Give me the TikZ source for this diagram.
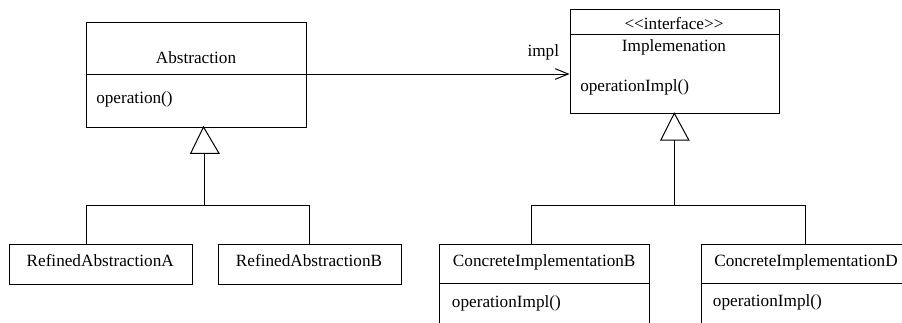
\documentclass[tikz,border=0pt]{standalone}
\usepackage{fontspec}
\setmainfont{Liberation Serif}
\usetikzlibrary{arrows.meta}
\tikzset{
  umlbox/.style={draw, rectangle, inner sep=0pt, anchor=north west, line width=0.75pt},
  lbl/.style={inner sep=0pt, font=\fontsize{12.9pt}{15pt}\selectfont},
  conn/.style={line width=0.75pt},
  gen/.style={line width=0.75pt, fill=white, line join=miter},
  assoc/.style={line width=0.75pt, -{Straight Barb[length=9.75pt,width=8pt,line width=0.75pt]}}
}
\begin{document}
\begin{tikzpicture}[x=0.75pt,y=-0.75pt]
\useasboundingbox (0,0) rectangle (902,322);
\clip (0,0) rectangle (902,322);

% Abstraction
\node[umlbox, minimum width=165pt, minimum height=78.75pt] (abs) at (86,22) {};
\coordinate (absdl) at (86,74);
\coordinate (absdr) at (306,74);
\draw[conn] (absdl) -- (absdr);
\node[lbl, anchor=base] (absname) at (196,63) {Abstraction};
\node[lbl, anchor=base west] (absop) at (96,103.5) {operation()};

% Implemenation
\node[umlbox, minimum width=156.9pt, minimum height=78pt] (imp) at (569.5,9.3) {};
\coordinate (impdl) at (569.5,34.7);
\coordinate (impdr) at (778.7,34.7);
\draw[conn] (impdl) -- (impdr);
\node[lbl, anchor=base] (impster) at (674,29.5) {<{}<interface>{}>};
\node[lbl, anchor=base] (impname) at (674,51.5) {Implemenation};
\node[lbl, anchor=base west] (impop) at (580,91.5) {operationImpl()};

% association
\coordinate (impin) at (569.5,74);
\draw[assoc] (absdr) -- (impin);
\node[lbl, anchor=base west] (impllbl) at (527.3,56.5) {impl};

% Refined abstractions
\node[umlbox, minimum width=137.25pt, minimum height=29.8pt] (ra) at (8.7,244.3) {};
\node[lbl, anchor=base] (raname) at (100.2,266.5) {RefinedAbstractionA};
\node[umlbox, minimum width=137pt, minimum height=29.8pt] (rb) at (218,244.3) {};
\node[lbl, anchor=base] (rbname) at (309,266.5) {RefinedAbstractionB};

% Concrete implementations
\node[umlbox, minimum width=157.3pt, minimum height=72pt] (cb) at (439.3,244.3) {};
\draw[conn] (439.3,283.5) -- (649,283.5);
\node[lbl, anchor=base] (cbname) at (544.2,266) {ConcreteImplementationB};
\node[lbl, anchor=base west] (cbop) at (451.7,307) {operationImpl()};
\node[umlbox, minimum width=157.3pt, minimum height=72pt] (cd) at (701.3,244.3) {};
\draw[conn] (701.3,283.5) -- (911,283.5);
\node[lbl, anchor=base] (cdname) at (806,266) {ConcreteImplementationD};
\node[lbl, anchor=base west] (cdop) at (712.7,306.5) {operationImpl()};

% generalization Abstraction
\coordinate (absapex) at (203.5,127);
\coordinate (absbase) at (204,153.3);
\coordinate (absj) at (204,205.3);
\coordinate (absjl) at (86.7,205.3);
\coordinate (absjr) at (309,205.3);
\draw[conn] (ra.north -| absjl) -- (absjl) -- (absjr) -- (rb.north -| absjr);
\draw[conn] (absj) -- (absbase);
\draw[gen] (absapex) -- (190.7,153.3) -- (219,153.3) -- cycle;

% generalization Implemenation
\coordinate (impapex) at (674.3,113.3);
\coordinate (impbase) at (674.3,140);
\coordinate (impj) at (674.3,205.7);
\coordinate (impjl) at (531,205.7);
\coordinate (impjr) at (805.7,205.7);
\draw[conn] (cb.north -| impjl) -- (impjl) -- (impjr) -- (cd.north -| impjr);
\draw[conn] (impj) -- (impbase);
\draw[gen] (impapex) -- (660.8,140) -- (688.8,140) -- cycle;
\end{tikzpicture}
\end{document}
